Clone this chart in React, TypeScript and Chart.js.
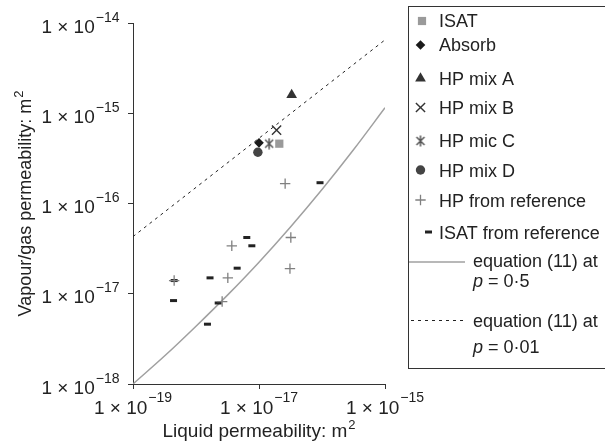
import React, { useEffect, useRef } from 'react';
import { Chart, registerables } from 'chart.js';
import { drawPoint } from 'chart.js/helpers';

Chart.register(...registerables);

// ---- tick labels ----
const xTickValues = [1e-19, 1e-17, 1e-15];
const xTickExponents = ['−19', '−17', '−15'];
const yTickValues = [1e-18, 1e-17, 1e-16, 1e-15, 1e-14];
const yTickExponents = ['−18', '−17', '−16', '−15', '−14'];

// ---- data (liquid permeability x, vapour/gas permeability y) ----
const isatX = [2.1e-17];
const isatY = [4.6e-16];
const absorbX = [1.0e-17];
const absorbY = [4.7e-16];
const hpMixAX = [3.3e-17];
const hpMixAY = [1.6e-15];
const hpMixBX = [1.9e-17];
const hpMixBY = [6.5e-16];
const hpMicCX = [1.45e-17];
const hpMicCY = [4.6e-16];
const hpMixDX = [9.6e-18];
const hpMixDY = [3.7e-16];
const hpRefX = [2.6e-17, 3.2e-17, 3.1e-17, 3.7e-18, 3.2e-18, 4.5e-19, 2.6e-18];
const hpRefY = [1.66e-16, 4.2e-17, 1.9e-17, 3.4e-17, 1.5e-17, 1.4e-17, 8.2e-18];
const isatRefX = [9.3e-17, 6.4e-18, 7.7e-18, 4.5e-18, 1.67e-18, 4.5e-19, 4.4e-19, 2.25e-18, 1.52e-18];
const isatRefY = [1.7e-16, 4.2e-17, 3.4e-17, 1.92e-17, 1.5e-17, 1.4e-17, 8.4e-18, 7.9e-18, 4.6e-18];
const eqP05X = [1e-19, 3.16e-19, 1e-18, 3.16e-18, 1e-17, 3.16e-17, 1e-16, 3.16e-16, 1e-15];
const eqP05Y = [1.0e-18, 2.04e-18, 4.37e-18, 9.66e-18, 2.24e-17, 5.5e-17, 1.43e-16, 3.94e-16, 1.15e-15];
const eqP001X = [1e-19, 1e-15];
const eqP001Y = [4.3e-17, 6.5e-15];

const legendLabels = [
  'ISAT',
  'Absorb',
  'HP mix A',
  'HP mix B',
  'HP mic C',
  'HP mix D',
  'HP from reference',
  'ISAT from reference',
];
const eqLabel = 'equation (11) at';
const eqP05Value = ' = 0·5';
const eqP001Value = ' = 0·01';

const zip = (xs: number[], ys: number[]) => xs.map((x, i) => ({ x, y: ys[i] }));

const FONT = '"Liberation Sans", Arial, Helvetica, sans-serif';
const TEXT = '#222';

type MarkerStyle = {
  pointStyle: any;
  radius: number;
  fill: string;
  stroke: string;
  borderWidth: number;
};

function makeAsterisk(): HTMLCanvasElement {
  const c = document.createElement('canvas');
  c.width = 12;
  c.height = 12;
  const g = c.getContext('2d')!;
  g.strokeStyle = '#555';
  g.lineWidth = 1.5;
  g.beginPath();
  g.moveTo(2, 2);
  g.lineTo(10, 10);
  g.moveTo(10, 2);
  g.lineTo(2, 10);
  g.moveTo(6, 0.5);
  g.lineTo(6, 11.5);
  g.stroke();
  return c;
}

function buildMarkerStyles(): MarkerStyle[] {
  return [
    { pointStyle: 'rect', radius: 5.8, fill: '#9a9a9a', stroke: '#9a9a9a', borderWidth: 0 },
    { pointStyle: 'rectRot', radius: 4.8, fill: '#1a1a1a', stroke: '#1a1a1a', borderWidth: 0 },
    { pointStyle: 'triangle', radius: 6.2, fill: '#333', stroke: '#333', borderWidth: 0 },
    { pointStyle: 'crossRot', radius: 6.5, fill: 'transparent', stroke: '#333', borderWidth: 1.4 },
    { pointStyle: makeAsterisk(), radius: 6, fill: 'transparent', stroke: '#555', borderWidth: 1.5 },
    { pointStyle: 'circle', radius: 4.7, fill: '#444', stroke: '#444', borderWidth: 0 },
    { pointStyle: 'cross', radius: 5.2, fill: 'transparent', stroke: '#808080', borderWidth: 1.3 },
    { pointStyle: 'line', radius: 3.5, fill: '#222', stroke: '#222', borderWidth: 3 },
  ];
}

function supText(
  ctx: CanvasRenderingContext2D,
  base: string,
  sup: string,
  x: number,
  y: number,
  align: 'left' | 'right' | 'center',
  baseSize: number,
  supSize: number,
  rise: number,
  gap = 1
) {
  ctx.font = `${baseSize}px ${FONT}`;
  const wb = ctx.measureText(base).width;
  ctx.font = `${supSize}px ${FONT}`;
  const ws = ctx.measureText(sup).width;
  const total = wb + gap + ws;
  const left = align === 'right' ? x - total : align === 'center' ? x - total / 2 : x;
  ctx.textAlign = 'left';
  ctx.textBaseline = 'alphabetic';
  ctx.font = `${baseSize}px ${FONT}`;
  ctx.fillText(base, left, y);
  ctx.font = `${supSize}px ${FONT}`;
  ctx.fillText(sup, left + wb + gap, y - rise);
}

function makeTextPlugin(markerStyles: MarkerStyle[]) {
  return {
    id: 'customText',
    afterDraw(chart: any) {
      const ctx: CanvasRenderingContext2D = chart.ctx;
      const { chartArea, scales } = chart;
      ctx.save();
      ctx.fillStyle = TEXT;

      // y tick labels
      yTickValues.forEach((v, i) => {
        const py = scales.y.getPixelForValue(v);
        supText(ctx, '1 × 10', yTickExponents[i], chartArea.left - 13.5, py + 9.5, 'right', 19, 14, 11);
      });
      // x tick labels
      xTickValues.forEach((v, i) => {
        const px = scales.x.getPixelForValue(v);
        supText(ctx, '1 × 10', xTickExponents[i], px, chartArea.bottom + 29.5, 'center', 19, 14, 12);
      });
      // x title
      supText(ctx, 'Liquid permeability: m', '2', (chartArea.left + chartArea.right) / 2, 437, 'center', 19, 13, 8);
      // y title
      ctx.save();
      ctx.translate(31, (chartArea.top + chartArea.bottom) / 2);
      ctx.rotate(-Math.PI / 2);
      supText(ctx, 'Vapour/gas permeability: m', '2', 0, 0, 'center', 18, 13, 8);
      ctx.restore();

      // legend box: left, top and bottom edges (right side runs past the picture edge)
      ctx.strokeStyle = '#333';
      ctx.lineWidth = 1;
      ctx.beginPath();
      ctx.moveTo(408.5, 6);
      ctx.lineTo(408.5, 369);
      ctx.stroke();
      ctx.fillStyle = '#333';
      ctx.fillRect(408, 6, 800, 1);
      ctx.fillRect(408, 368, 800, 1);
      ctx.fillStyle = TEXT;

      const rowMarkerY = [21, 45, 78.5, 107.5, 141, 170, 200, 232];
      const rowBaseline = [26.5, 51, 85, 113.5, 147, 177, 207, 238.5];
      const markerX = [422, 420.5, 420.5, 420.5, 420.5, 420.5, 420.5, 428.5];
      legendLabels.forEach((label, i) => {
        const m = markerStyles[i];
        ctx.save();
        ctx.fillStyle = m.fill;
        ctx.strokeStyle = m.stroke;
        ctx.lineWidth = m.borderWidth;
        drawPoint(ctx, { pointStyle: m.pointStyle, radius: m.radius, rotation: 0, borderWidth: m.borderWidth } as any, markerX[i], rowMarkerY[i]);
        ctx.restore();
        ctx.fillStyle = TEXT;
        ctx.font = `18px ${FONT}`;
        ctx.textAlign = 'left';
        ctx.textBaseline = 'alphabetic';
        ctx.fillText(label, 439, rowBaseline[i]);
      });

      // line samples
      ctx.save();
      ctx.strokeStyle = '#a0a0a0';
      ctx.lineWidth = 1.5;
      ctx.beginPath();
      ctx.moveTo(409, 262);
      ctx.lineTo(465, 262);
      ctx.stroke();
      ctx.strokeStyle = '#222';
      ctx.lineWidth = 1;
      ctx.setLineDash([3, 4]);
      ctx.beginPath();
      ctx.moveTo(411, 320.5);
      ctx.lineTo(465, 320.5);
      ctx.stroke();
      ctx.restore();

      const drawEq = (baseline: number, value: string) => {
        ctx.font = `italic 18px ${FONT}`;
        ctx.textAlign = 'left';
        ctx.fillText('p', 473, baseline);
        const wp = ctx.measureText('p').width;
        ctx.font = `18px ${FONT}`;
        ctx.fillText(value, 473 + wp, baseline);
      };
      ctx.fillStyle = TEXT;
      ctx.font = `18px ${FONT}`;
      ctx.fillText(eqLabel, 473, 267);
      drawEq(287, eqP05Value);
      ctx.font = `18px ${FONT}`;
      ctx.fillText(eqLabel, 473, 326.5);
      drawEq(353, eqP001Value);

      ctx.restore();
    },
  };
}

function scatterSet(label: string, xs: number[], ys: number[], m: MarkerStyle) {
  return {
    label,
    data: zip(xs, ys),
    pointStyle: m.pointStyle,
    pointRadius: m.radius,
    pointBackgroundColor: m.fill,
    pointBorderColor: m.stroke,
    pointBorderWidth: m.borderWidth,
    showLine: false,
  };
}

export default function App() {
  const canvasRef = useRef<HTMLCanvasElement | null>(null);

  useEffect(() => {
    if (!canvasRef.current) return;
    const markerStyles = buildMarkerStyles();
    const axisCommon = {
      type: 'logarithmic' as const,
      grid: { drawOnChartArea: false, drawTicks: true, tickLength: 5, color: '#333', lineWidth: 1 },
      border: { display: true, color: '#333', width: 1 },
      ticks: { display: false },
      title: { display: false },
    };
    const chart = new Chart(canvasRef.current, {
      type: 'scatter',
      data: {
        datasets: [
          scatterSet(legendLabels[0], isatX, isatY, markerStyles[0]),
          scatterSet(legendLabels[1], absorbX, absorbY, markerStyles[1]),
          scatterSet(legendLabels[2], hpMixAX, hpMixAY, markerStyles[2]),
          scatterSet(legendLabels[3], hpMixBX, hpMixBY, markerStyles[3]),
          scatterSet(legendLabels[4], hpMicCX, hpMicCY, markerStyles[4]),
          scatterSet(legendLabels[5], hpMixDX, hpMixDY, markerStyles[5]),
          scatterSet(legendLabels[6], hpRefX, hpRefY, markerStyles[6]),
          scatterSet(legendLabels[7], isatRefX, isatRefY, markerStyles[7]),
          {
            label: 'equation (11) at p = 0.5',
            data: zip(eqP05X, eqP05Y),
            showLine: true,
            pointRadius: 0,
            borderColor: '#a0a0a0',
            borderWidth: 1.5,
            cubicInterpolationMode: 'monotone',
          },
          {
            label: 'equation (11) at p = 0.01',
            data: zip(eqP001X, eqP001Y),
            showLine: true,
            pointRadius: 0,
            borderColor: '#222',
            borderWidth: 1,
            borderDash: [3, 4],
          },
        ] as any,
      },
      options: {
        animation: false,
        responsive: true,
        maintainAspectRatio: false,
        layout: { padding: { left: 128, right: 220, top: 23, bottom: 54 } },
        plugins: { legend: { display: false }, tooltip: { enabled: false } },
        scales: {
          x: {
            ...axisCommon,
            min: 1e-19,
            max: 1e-15,
            afterBuildTicks: (scale: any) => {
              scale.ticks = xTickValues.map((v) => ({ value: v }));
            },
          },
          y: {
            ...axisCommon,
            min: 1e-18,
            max: 1e-14,
            afterBuildTicks: (scale: any) => {
              scale.ticks = yTickValues.map((v) => ({ value: v }));
            },
          },
        },
      } as any,
      plugins: [makeTextPlugin(markerStyles)],
    });
    return () => chart.destroy();
  }, []);

  return (
    <div style={{ position: 'fixed', left: 0, top: 0, width: 605, height: 443, background: '#fff' }}>
      <canvas ref={canvasRef} />
    </div>
  );
}
